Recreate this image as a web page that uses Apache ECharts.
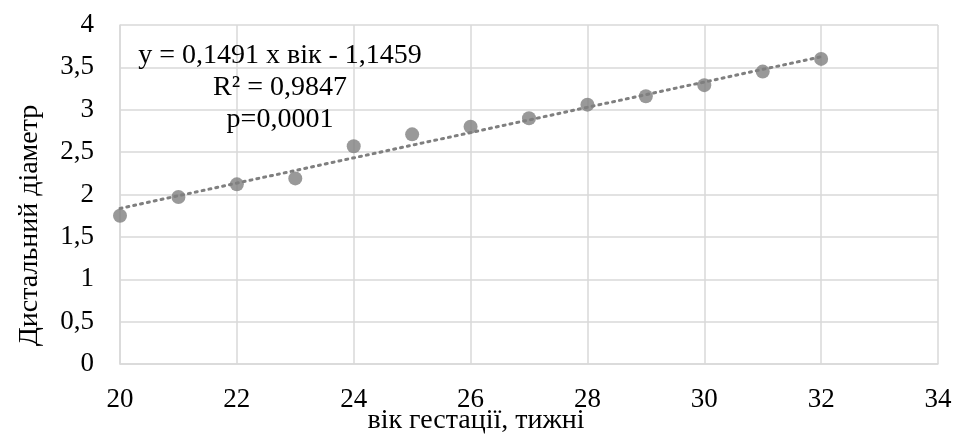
<!DOCTYPE html>
<html><head><meta charset="utf-8">
<script src="https://cdn.jsdelivr.net/npm/echarts@6/dist/echarts.min.js"></script>
<style>html,body{margin:0;padding:0;background:#fff}#c{width:955px;height:435px}</style>
</head><body><div id="c"></div>
<script>
const weeks = [20,21,22,23,24,25,26,27,28,29,30,31,32];
const diameter = [1.75,1.97,2.12,2.19,2.57,2.71,2.80,2.90,3.06,3.16,3.29,3.45,3.60];
const slope = 0.1491, intercept = -1.1459;
const trendX = [20, 32];
const annotation = ['y = 0,1491 x вік - 1,1459', 'R² = 0,9847', 'p=0,0001'];
const xTitle = 'вік гестації, тижні';
const yTitle = 'Дистальний діаметр';

const font = '"Liberation Serif","Times New Roman",serif';
const chart = echarts.init(document.getElementById('c'));
chart.setOption({
  animation:false,
  grid:{left:120,right:17,top:25,bottom:71,containLabel:false,outerBoundsMode:'none'},
  xAxis:{type:'value',min:20,max:34,interval:2,
    name:xTitle,nameLocation:'middle',nameGap:43,nameMoveOverlap:false,
    nameTextStyle:{fontFamily:font,fontSize:28,color:'#000',padding:[0,106,0,0]},
    axisLine:{show:true,lineStyle:{color:'#d9d9d9',width:1.5}},
    axisTick:{show:false},
    axisLabel:{fontFamily:font,fontSize:27,color:'#000',margin:22},
    splitLine:{show:true,lineStyle:{color:'#d9d9d9',width:1.5}}},
  yAxis:{type:'value',min:0,max:4,interval:0.5,
    name:yTitle,nameLocation:'middle',nameGap:76,nameMoveOverlap:false,
    nameTextStyle:{fontFamily:font,fontSize:28,color:'#000',padding:[0,62,0,0]},
    axisLine:{show:true,lineStyle:{color:'#d9d9d9',width:1.5}},
    axisTick:{show:false},
    axisLabel:{fontFamily:font,fontSize:27,color:'#000',margin:26,
      formatter:v=>String(v).replace('.',',')},
    splitLine:{show:true,lineStyle:{color:'#d9d9d9',width:1.5}}},
  series:[
    {type:'line',data:trendX.map(x=>[x,slope*x+intercept]),showSymbol:false,symbol:'none',
     lineStyle:{color:'#7f7f7f',width:3,type:[2,5],cap:'round'},z:2,silent:true},
    {type:'scatter',data:weeks.map((w,i)=>[w,diameter[i]]),symbolSize:14,
     itemStyle:{color:'#7f7f7f'},z:3}
  ],
  graphic:annotation.map((t,i)=>({type:'text',x:280,y:56+i*32,
    style:{text:t,fontFamily:font,fontSize:28,fill:'#000',align:'center',verticalAlign:'middle'},z:10}))
});
</script></body></html>
